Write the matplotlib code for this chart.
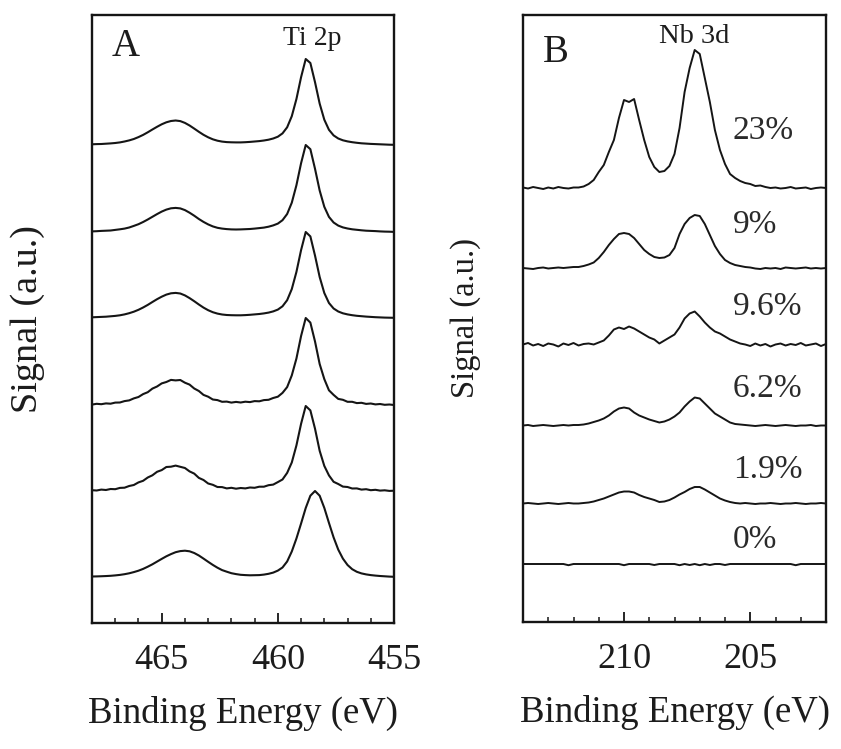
import numpy as np
import matplotlib
matplotlib.use("Agg")
import matplotlib.pyplot as plt
from matplotlib.ticker import MultipleLocator

plt.rcParams["font.family"] = ["Liberation Serif", "DejaVu Serif"]

# ---------------- Ti 2p spectra (panel A) ----------------
# binding-energy grid, 0.2 eV steps from 468 eV down to 455 eV
energy_ti = np.round(np.arange(468.0, 454.9, -0.2), 1)

# intensities above each trace's own baseline, top trace first
ti_1 = [0.7, 0.9, 1.0, 1.3, 1.6, 2.0, 2.6, 3.5, 4.6, 6.0, 7.9, 10.1, 12.7, 15.5,
        18.2, 20.7, 22.7, 24.0, 24.5, 23.9, 22.1, 19.5, 16.4, 13.2, 10.2, 7.7,
        5.7, 4.3, 3.4, 2.9, 2.7, 2.6, 2.6, 2.8, 3.1, 3.5,
        3.9, 4.5, 5.3, 6.5, 8.3, 11.6, 17.7, 28.8, 46.0, 67.8,
        86.0, 82.0, 62.8, 41.4, 25.3, 15.2, 9.6, 6.5, 4.7, 3.6,
        2.8, 2.2, 1.7, 1.4, 1.1, 0.9, 0.7, 0.5, 0.3, 0.2]
ti_2 = [0.6, 0.8, 1.1, 1.3, 1.5, 2.1, 2.7, 3.4, 4.5, 6.1, 7.8, 10.0, 12.5, 15.2,
        17.9, 20.4, 22.4, 23.7, 24.1, 23.6, 21.9, 19.3, 16.3, 13.0, 10.1, 7.6,
        5.6, 4.2, 3.4, 2.9, 2.6, 2.5, 2.6, 2.8, 3.0, 3.4,
        3.9, 4.4, 5.3, 6.6, 8.4, 11.8, 18.0, 29.3, 46.8, 68.8,
        87.0, 82.8, 63.2, 41.5, 25.2, 15.1, 9.5, 6.4, 4.6, 3.5,
        2.7, 2.2, 1.7, 1.3, 1.1, 0.9, 0.6, 0.4, 0.3, 0.1]
ti_3 = [0.7, 0.9, 1.1, 1.3, 1.7, 2.1, 2.7, 3.6, 4.8, 6.3, 8.2, 10.5, 13.1, 16.0,
        18.8, 21.3, 23.4, 24.7, 25.1, 24.5, 22.6, 19.9, 16.8, 13.5, 10.4, 7.8,
        5.8, 4.4, 3.5, 3.0, 2.8, 2.7, 2.7, 2.9, 3.2, 3.6,
        4.0, 4.6, 5.4, 6.6, 8.4, 11.7, 17.8, 28.9, 46.1, 67.9,
        86.0, 81.6, 62.4, 41.0, 25.0, 15.0, 9.5, 6.5, 4.7, 3.6,
        2.8, 2.2, 1.8, 1.4, 1.1, 0.8, 0.6, 0.4, 0.3, 0.2]
ti_4 = [0.4, 1.2, 0.8, 1.6, 1.3, 2.4, 2.5, 3.9, 4.6, 6.6, 8.0, 10.9, 12.8, 16.4,
        18.5, 21.6, 23.0, 25.1, 24.6, 25.0, 22.3, 20.4, 16.5, 14.0, 10.1, 8.3,
        5.5, 4.9, 3.2, 3.4, 2.4, 3.1, 2.5, 3.3, 2.9, 3.9,
        3.7, 4.9, 5.2, 7.0, 8.3, 12.1, 17.9, 29.6, 46.5, 69.0,
        87.0, 82.4, 63.5, 41.0, 25.9, 14.7, 10.1, 6.1, 5.2, 3.2,
        3.2, 1.9, 2.2, 1.1, 1.5, 0.6, 1.0, 0.2, 0.5, 0.0]
ti_5 = [0.8, 0.5, 1.4, 1.0, 2.0, 1.8, 3.1, 3.3, 5.0, 6.0, 8.6, 10.2, 13.5, 15.7,
        19.2, 20.9, 24.0, 24.3, 25.4, 24.2, 23.0, 19.6, 17.4, 13.1, 11.0, 7.5,
        6.2, 4.0, 3.9, 2.6, 3.2, 2.3, 3.0, 2.6, 3.5, 3.2,
        4.3, 4.3, 5.8, 6.4, 8.9, 11.5, 18.1, 28.5, 45.6, 67.2,
        85.0, 80.6, 62.3, 40.2, 25.1, 15.6, 9.2, 7.0, 4.4, 4.0,
        2.5, 2.6, 1.4, 1.8, 0.8, 1.2, 0.4, 0.7, 0.1, 0.3]
ti_6 = [0.5, 0.6, 0.75, 0.95, 1.2, 1.6, 2.1, 2.8, 3.7, 4.9, 6.3, 8.1, 10.3, 12.7,
        15.4, 18.1, 20.7, 22.9, 24.8, 25.9, 26.3, 25.7, 24.0, 21.5, 18.4, 15.2,
        12.1, 9.3, 6.9, 5.3, 3.8, 2.9, 2.2, 1.9, 1.7, 1.8,
        1.9, 2.4, 3.2, 4.4, 6.4, 9.5, 15.5, 25.5, 38.5, 53.5,
        69.0, 81.3, 86.0, 81.3, 69.1, 54.1, 39.6, 27.4, 18.4, 12.0,
        7.8, 5.2, 3.6, 2.6, 1.9, 1.4, 1.0, 0.7, 0.4, 0.2]
ti_traces = [ti_1, ti_2, ti_3, ti_4, ti_5, ti_6]
ti_offsets = [478, 391, 305, 218, 132, 46]

# ---------------- Nb 3d spectra (panel B) ----------------
energy_nb = np.round(np.arange(214.0, 201.9, -0.2), 1)

nb_23 = [0.5, -0.5, 1.0, 0.0, -1.0, 0.5, -0.5, 1.0, 0.0, -0.5, 0.5, 0.5, 1.5,
         4, 8, 16, 23, 36, 48, 70, 88, 86, 89, 68, 48, 31, 21, 16,
         17, 22, 34, 60, 96, 120, 138, 134, 110, 86, 58, 38, 24, 14, 10, 7, 5,
         4, 2, 2.5, 1, 0, 0.5, -0.5, 0, 1, -0.5, 0, 0.5, -1, 0, 0.5, 0]
nb_9 = [0, -0.5, -1, 0, 0.5, -0.5, 0, 0.5, 0, 0.5, 1,
        1.0, 2.0, 3.5, 5.5, 10, 16, 23, 29, 34, 35, 34, 30, 24, 18, 14, 11, 10,
        10.5, 13, 20, 34, 44, 50, 53, 52, 44, 33, 22, 14, 8, 5, 3, 2, 1,
        0.5, -0.5, -1, 0, -0.5, 0, -1, 0.5, 0, -0.5, 0, 0.5, -0.5, 0, -0.5, 0]
nb_96 = [0, 1.5, -1, 0.5, -1.5, 1, 0, -2, 1, -0.5, 1.5, -1, 0.5, 1, 0,
         2, 4, 9, 15, 17, 15.5, 18, 16, 13, 10, 7, 5, 1, 4, 7, 10, 17, 26, 31,
         33, 28, 22, 17, 13, 11, 8, 5, 3, 1,
         0, -1.5, 1, -1, 0.5, -2, 0, 1, -1, 0.5, -0.5, 1.5, -1, 0, 1, -1.5, 0.5]
nb_62 = [0, 0.5, -0.5, 0, 0.5, 0, -0.5, 0, 0.5, 0, 0.5,
         0.5, 1, 2, 3.5, 5, 7, 10, 14, 17, 18, 17, 13, 10, 8, 6, 4.5, 3, 4, 6,
         9, 13, 19, 24, 28, 27, 22, 17, 12, 9, 6, 3, 1.5, 1,
         0.5, 0, -0.5, 0, 0.5, 0, -0.5, 0, 0.5, 0, -0.5, 0, 0, 0.5, -0.5, 0, 0]
nb_19 = [0, 0.5, 0, -0.5, 0, 0.5, 0, -0.5, 0, 0.5, 0, 0, 0.5,
         1, 2, 3.5, 5, 7, 9, 11, 12, 12, 11, 8.5, 6.5, 5, 3.5, 1.5, 2, 3.5, 6,
         9, 11.5, 14.5, 16.5, 16.5, 14, 11, 8, 5, 3, 1.5, 0.5,
         0, 0.5, 0, -0.5, 0, 0, 0.5, 0, -0.5, 0, 0, 0.5, 0, -0.5, 0, 0, 0.5, 0]
nb_0 = [0, 0, 0, 0, 0, 0, 0, 0, 0, -1.2,
        0, 0, 0, 0, 0, 0, 0, 0, 0, 0,
        -1.2, 0, 0, 0, 0, 0, -1, 0, 0, 0,
        0, -1.2, 0, -1, 0, -1.2, 0, -1, 0, 0,
        -1, 0, 0, 0, 0, 0, 0, 0, 0, 0,
        0, 0, 0, 0, -1.2, 0, 0, 0, 0, 0, 0]
nb_traces = [nb_23, nb_9, nb_96, nb_62, nb_19, nb_0]
nb_offsets = [434, 354, 277.5, 196.5, 118.5, 58]
nb_labels = ["23%", "9%", "9.6%", "6.2%", "1.9%", "0%"]
nb_label_y = [482.7, 388.7, 307, 225, 143.7, 73.7]

# ---------------- figure ----------------
W, H = 841, 749
fig = plt.figure(figsize=(W / 100, H / 100), dpi=100)
axA = fig.add_axes([92 / W, 1 - 623 / H, 302 / W, 608 / H])
axB = fig.add_axes([523 / W, 1 - 622 / H, 303 / W, 607 / H])

ink = "#151515"
text_col = "#1c1c1c"

for vals, off in zip(ti_traces, ti_offsets):
    axA.plot(energy_ti, np.asarray(vals) + off, color=ink, lw=1.5,
             solid_joinstyle="round")
for vals, off in zip(nb_traces, nb_offsets):
    axB.plot(energy_nb, np.asarray(vals) + off, color=ink, lw=1.4,
             solid_joinstyle="round")

axA.set_xlim(468, 455)
axA.set_ylim(0, 608)
axB.set_xlim(214, 202)
axB.set_ylim(0, 607)

for ax in (axA, axB):
    ax.xaxis.set_major_locator(MultipleLocator(5))
    ax.xaxis.set_minor_locator(MultipleLocator(1))
    ax.set_yticks([])
    ax.tick_params(axis="x", which="both", direction="in", top=False,
                   labelsize=26, pad=15, colors=ink, labelcolor=text_col)
    ax.tick_params(axis="x", which="major", length=7, width=1.3)
    ax.tick_params(axis="x", which="minor", length=3.5, width=1.1)
    for sp in ax.spines.values():
        sp.set_linewidth(1.7)
        sp.set_color(ink)
    ax.set_xlabel("Binding Energy (eV)", fontsize=26.5, color=text_col,
                  labelpad=14)

axA.set_ylabel("Signal (a.u.)", fontsize=27.5, color=text_col)
axA.yaxis.set_label_coords(-0.212, 0.5)
axA.yaxis.label.set_va("center")
axB.set_ylabel("Signal (a.u.)", fontsize=23.5, color=text_col)
axB.yaxis.set_label_coords(-0.191, 0.5)
axB.yaxis.label.set_va("center")

axA.text(0.066, 0.9326, "A", transform=axA.transAxes, fontsize=28,
         color=text_col, ha="left", va="baseline")
axA.text(0.633, 0.9507, "Ti 2p", transform=axA.transAxes, fontsize=20,
         color=text_col, ha="left", va="baseline")
axB.text(0.066, 0.9226, "B", transform=axB.transAxes, fontsize=28,
         color=text_col, ha="left", va="baseline")
axB.text(0.449, 0.954, "Nb 3d", transform=axB.transAxes, fontsize=20.5,
         color=text_col, ha="left", va="baseline")

for lab, ly in zip(nb_labels, nb_label_y):
    axB.text(0.693, ly, lab, transform=axB.get_yaxis_transform(),
             fontsize=24, color="#2a2a2a", ha="left", va="baseline")

fig.savefig("out.png", dpi=100, facecolor="white")
